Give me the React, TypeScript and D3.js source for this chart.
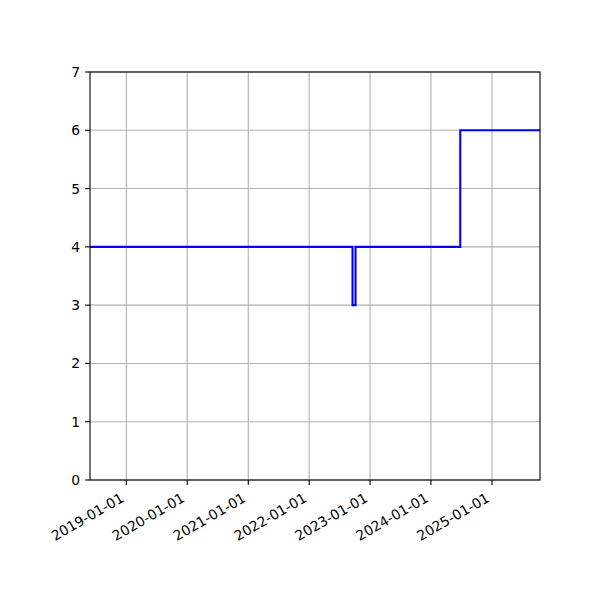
import * as d3 from "d3";

// step series
const dates = ["2018-05-28", "2022-09-18", "2022-10-06", "2024-06-25", "2025-10-16"];
const values = [4, 3, 4, 6, 6];
const yTicks = [0, 1, 2, 3, 4, 5, 6, 7];
const xTickLabels = ["2019-01-01", "2020-01-01", "2021-01-01", "2022-01-01", "2023-01-01", "2024-01-01", "2025-01-01"];

const W = 600;
const H = 600;
const m = { l: 90, r: 60, t: 72, b: 120 };
const FONT = "'DejaVu Sans', sans-serif";
const FS = 13.9;

const App = () => {
  const parse = d3.utcParse("%Y-%m-%d");
  const pts = dates.map((d, i) => ({ date: parse(d) as Date, v: values[i] }));

  const x = d3
    .scaleUtc()
    .domain(d3.extent(pts, (d) => d.date) as [Date, Date])
    .range([m.l, W - m.r]);
  const y = d3.scaleLinear().domain([0, 7]).range([H - m.b, m.t]);

  const line = d3
    .line<{ date: Date; v: number }>()
    .x((d) => x(d.date))
    .y((d) => y(d.v))
    .curve(d3.curveStepAfter);

  const xTicks = xTickLabels.map((s) => parse(s) as Date);
  const bottom = H - m.b;

  return (
    <svg
      width={W}
      height={H}
      style={{ position: "absolute", left: 0, top: 0, background: "white" }}
      fontFamily={FONT}
      fontSize={FS}
    >
      {/* grid */}
      <g stroke="#b0b0b0" strokeWidth={1.1}>
        {xTicks.map((t, i) => (
          <line key={"gx" + i} x1={x(t)} x2={x(t)} y1={m.t} y2={bottom} />
        ))}
        {yTicks.map((t) => (
          <line key={"gy" + t} x1={m.l} x2={W - m.r} y1={y(t)} y2={y(t)} />
        ))}
      </g>

      <path d={line(pts) || ""} fill="none" stroke="blue" strokeWidth={2.1} />

      {/* spines */}
      <rect
        x={m.l}
        y={m.t}
        width={W - m.l - m.r}
        height={H - m.t - m.b}
        fill="none"
        stroke="black"
        strokeWidth={1.1}
      />

      {/* y axis */}
      {yTicks.map((t) => (
        <g key={"yt" + t}>
          <line x1={m.l - 4.9} x2={m.l} y1={y(t)} y2={y(t)} stroke="black" strokeWidth={1.1} />
          <text x={m.l - 9.8} y={y(t)} textAnchor="end" dominantBaseline="central">
            {t}
          </text>
        </g>
      ))}

      {/* x axis */}
      {xTicks.map((t, i) => (
        <g key={"xt" + i}>
          <line x1={x(t)} x2={x(t)} y1={bottom} y2={bottom + 4.9} stroke="black" strokeWidth={1.1} />
          <text
            transform={`translate(${x(t) - 4},${bottom + 16.5}) rotate(-30)`}
            textAnchor="end"
            dominantBaseline="central"
          >
            {xTickLabels[i]}
          </text>
        </g>
      ))}
    </svg>
  );
};

export default App;
